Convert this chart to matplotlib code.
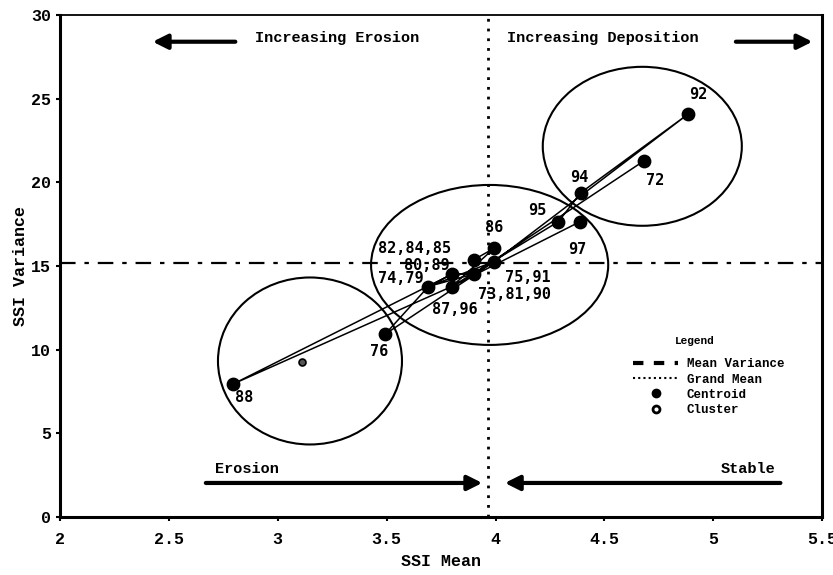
'''
SSI mean vs SSI variance, centroids by year with clusters
'''
import matplotlib
matplotlib.use('Agg')
import matplotlib.pyplot as plt
from matplotlib.patches import Ellipse
from matplotlib.lines import Line2D

# centroids (labels are the years sharing a point)
point_labels = ['92', '72', '94', '95', '97', '86', '82,84,85', '80,89',
                '74,79', '75,91', '73,81,90', '87,96', '76', '88']
point_x = [4.886, 4.684, 4.392, 4.289, 4.389, 3.994, 3.899, 3.799,
           3.692, 3.994, 3.899, 3.799, 3.493, 2.796]
point_y = [24.09, 21.3, 19.38, 17.65, 17.65, 16.06, 15.36, 14.50,
           13.77, 15.26, 14.52, 13.77, 10.92, 7.95]

# order in which the centroids are joined
year_order = ['72', '73', '74', '75', '76', '79', '80', '81', '82', '84', '85',
              '86', '87', '88', '89', '90', '91', '92', '94', '95', '96', '97']

# cluster centre and cluster outlines (centre x, centre y, width, height)
cluster_x = [3.113]
cluster_y = [9.28]
ell_x = [3.148, 3.973, 4.674]
ell_y = [9.32, 15.06, 22.15]
ell_w = [0.845, 1.089, 0.914]
ell_h = [9.98, 9.56, 9.5]

mean_variance = 15.2
grand_mean = 3.967

x_ticks = [2, 2.5, 3, 3.5, 4, 4.5, 5, 5.5]
x_ticklabels = ['2', '2.5', '3', '3.5', '4', '4.5', '5', '5.5']
y_ticks = [0, 5, 10, 15, 20, 25, 30]

# label offsets in pixels
label_off = [(10, 19), (11, -20), (-2, 15), (-21, 11), (-3, -28), (0, 21),
             (-59, 11), (-25, 9), (-28, 8), (34, -16), (41, -21), (3, -23),
             (-6, -17), (11, -14)]


def year_point(year):
    for i, lab in enumerate(point_labels):
        if year in lab.split(','):
            return point_x[i], point_y[i]
    return None


def main():
    plt.rcParams['font.family'] = ['Liberation Mono', 'DejaVu Sans']
    plt.rcParams['font.weight'] = 'bold'
    fig = plt.figure(figsize=(8.33, 5.75), dpi=100)
    ax = fig.add_axes([0.072, 0.101, 0.915, 0.873])

    # trajectory
    tx, ty = [], []
    for yr in year_order:
        p = year_point(yr)
        if p is not None:
            tx.append(p[0])
            ty.append(p[1])
    ax.plot(tx, ty, color='black', lw=1.1, zorder=2)

    ax.scatter(point_x, point_y, s=80, color='black', zorder=3)
    ax.scatter(cluster_x, cluster_y, s=25, facecolor='#555555',
               edgecolor='black', lw=1.2, zorder=3)

    for i in range(len(ell_x)):
        ax.add_patch(Ellipse((ell_x[i], ell_y[i]), ell_w[i], ell_h[i],
                             fill=False, lw=1.5, color='black', zorder=2))

    for lab, x, y, off in zip(point_labels, point_x, point_y, label_off):
        ax.annotate(lab, (x, y), xytext=off, textcoords='offset pixels',
                    ha='center', va='center', fontsize=11, fontweight='bold',
                    family='DejaVu Sans Mono', zorder=4)

    ax.axhline(mean_variance, color='black', lw=1.6,
               ls=(0, (7, 4, 2, 4)), zorder=1)
    ax.axvline(grand_mean, color='black', lw=2, ls=(0, (1, 2.5)), zorder=1)

    # direction arrows and captions
    arr = dict(arrowstyle='-|>', lw=3, color='black', mutation_scale=22)
    ax.annotate('', xy=(2.413, 28.4), xytext=(2.818, 28.4), arrowprops=arr)
    ax.annotate('', xy=(5.468, 28.4), xytext=(5.091, 28.4), arrowprops=arr)
    ax.text(3.272, 28.6, 'Increasing Erosion', ha='center', va='center',
            fontsize=11, fontweight='bold')
    ax.text(4.494, 28.6, 'Increasing Deposition', ha='center', va='center',
            fontsize=11, fontweight='bold')
    ax.annotate('', xy=(3.952, 2.03), xytext=(2.657, 2.03), arrowprops=arr)
    ax.annotate('', xy=(4.03, 2.03), xytext=(5.321, 2.03), arrowprops=arr)
    ax.text(2.858, 2.87, 'Erosion', ha='center', va='center',
            fontsize=11, fontweight='bold')
    ax.text(5.16, 2.87, 'Stable', ha='center', va='center',
            fontsize=11, fontweight='bold')

    # legend
    ax.text(0.833, 0.351, 'Legend', transform=ax.transAxes, ha='center',
            va='center', fontsize=8, fontweight='bold')
    handles = [
        Line2D([], [], color='black', lw=3, ls=(0, (2.5, 2.5))),
        Line2D([], [], color='black', lw=1.5, ls=(0, (1, 1.5))),
        Line2D([], [], color='black', ls='none', marker='o', markersize=6),
        Line2D([], [], color='black', ls='none', marker='o', markersize=5,
               markerfacecolor='white', markeredgewidth=2),
    ]
    ax.legend(handles, ['Mean Variance', 'Grand Mean', 'Centroid', 'Cluster'],
              loc='upper left', bbox_to_anchor=(0.752, 0.316), frameon=False,
              prop={'size': 9, 'weight': 'bold'}, borderpad=0,
              borderaxespad=0, handlelength=3.6, labelspacing=0.26,
              handletextpad=0.7)

    ax.set_xlim(2, 5.5)
    ax.set_ylim(0, 30)
    ax.set_xticks(x_ticks)
    ax.set_xticklabels(x_ticklabels)
    ax.set_yticks(y_ticks)
    ax.tick_params(direction='out', length=3, width=1.5, labelsize=12)
    ax.tick_params(axis='x', pad=8)
    for lab in ax.get_xticklabels() + ax.get_yticklabels():
        lab.set_fontweight('bold')
    ax.set_xlabel('SSI Mean', fontsize=12, fontweight='bold', labelpad=5)
    ax.set_ylabel('SSI Variance', fontsize=12, fontweight='bold', labelpad=2)
    for side in ['left', 'right', 'bottom']:
        ax.spines[side].set_linewidth(2.2)
    ax.spines['top'].set_linewidth(1.3)

    fig.savefig('out.png', dpi=100)


if __name__ == '__main__':
    main()
